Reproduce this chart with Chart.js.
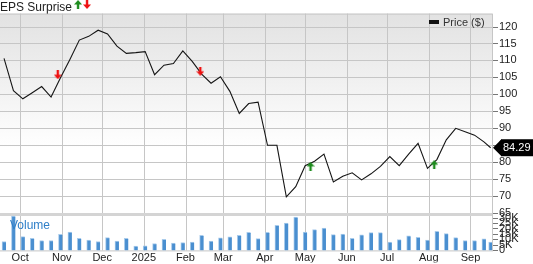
<!DOCTYPE html>
<html>
<head>
<meta charset="utf-8">
<script src="https://cdn.jsdelivr.net/npm/chart.js@4.4.1/dist/chart.umd.min.js"></script>
<style>
  html, body { margin: 0; padding: 0; background: #fff; }
</style>
</head>
<body>
<canvas id="chart" width="533" height="264"></canvas>
<script>
// weekly closes
const weeks = [
  '2024-09-19', '2024-09-26', '2024-10-03', '2024-10-10', '2024-10-17', '2024-10-24',
  '2024-10-31', '2024-11-07', '2024-11-14', '2024-11-21', '2024-11-28', '2024-12-05',
  '2024-12-12', '2024-12-19', '2024-12-26', '2025-01-02', '2025-01-09', '2025-01-16',
  '2025-01-23', '2025-01-30', '2025-02-06', '2025-02-13', '2025-02-20', '2025-02-27',
  '2025-03-06', '2025-03-13', '2025-03-20', '2025-03-27', '2025-04-03', '2025-04-10',
  '2025-04-17', '2025-04-24', '2025-05-01', '2025-05-08', '2025-05-15', '2025-05-22',
  '2025-05-29', '2025-06-05', '2025-06-12', '2025-06-19', '2025-06-26', '2025-07-03',
  '2025-07-10', '2025-07-17', '2025-07-24', '2025-07-31', '2025-08-07', '2025-08-14',
  '2025-08-21', '2025-08-28', '2025-09-04', '2025-09-11', '2025-09-16'
];
const prices = [
  110.6, 101.1, 98.7, 100.5, 102.3, 99.2, 104.9, 110.3, 116.0, 117.1, 118.9, 117.8,
  114.2, 112.1, 112.3, 112.6, 105.8, 108.6, 109.1, 112.8, 109.7, 106.0, 103.3, 105.2,
  100.9, 94.4, 97.3, 97.7, 85.0, 85.0, 69.8, 72.8, 79.0, 80.3, 82.4, 74.2,
  75.9, 76.9, 74.8, 76.6, 78.8, 81.7, 79.0, 82.4, 85.6, 78.2, 80.8, 86.6,
  90.0, 89.0, 88.0, 86.0, 84.29
];
// volume in thousands
const volumes = [
  8.1, 31.2, 12.6, 11.1, 9.0, 9.0, 14.7, 16.8, 11.1, 9.3, 8.1, 11.7,
  8.4, 11.1, 3.9, 4.1, 6.3, 10.2, 6.6, 7.2, 7.5, 13.8, 8.6, 11.4,
  12.3, 13.8, 16.5, 10.8, 16.5, 22.8, 24.9, 30.3, 16.8, 18.9, 20.4, 14.4,
  15.0, 11.1, 14.1, 16.2, 16.2, 7.7, 9.9, 13.2, 12.0, 9.5, 17.4, 15.3,
  11.7, 9.0, 9.0, 10.5, 7.5
];

const epsDates = ['2024-10-29', '2025-02-12', '2025-05-05', '2025-08-05'];
const epsLevels = [105.8, 106.8, 78.8, 79.3];
const epsBeat = [false, false, true, true];

const monthTicks = ['2024-10-01', '2024-11-01', '2024-12-01', '2025-01-01', '2025-02-01', '2025-03-01',
  '2025-04-01', '2025-05-01', '2025-06-01', '2025-07-01', '2025-08-01', '2025-09-01'];
const monthLabels = ['Oct', 'Nov', 'Dec', '2025', 'Feb', 'Mar', 'Apr', 'May', 'Jun', 'Jul', 'Aug', 'Sep'];
const priceTicks = [65, 70, 75, 80, 85, 90, 95, 100, 105, 110, 115, 120];
const volumeTicks = [0, 5, 10, 15, 20, 25, 30];
const xRange = ['2024-09-16', '2025-09-17'];

const FONT = "'Liberation Sans', Arial, sans-serif";
const GRID = '#c6c6c6';
const day = (s) => Date.parse(s + 'T00:00:00Z') / 86400000;

function makeArrow(color, up) {
  const c = document.createElement('canvas');
  c.width = 8;
  c.height = 9;
  const g = c.getContext('2d');
  g.fillStyle = color;
  g.beginPath();
  if (up) {
    g.moveTo(4, 0); g.lineTo(8, 4.5); g.lineTo(5.2, 4.5); g.lineTo(5.2, 9);
    g.lineTo(2.8, 9); g.lineTo(2.8, 4.5); g.lineTo(0, 4.5);
  } else {
    g.moveTo(4, 9); g.lineTo(8, 4.5); g.lineTo(5.2, 4.5); g.lineTo(5.2, 0);
    g.lineTo(2.8, 0); g.lineTo(2.8, 4.5); g.lineTo(0, 4.5);
  }
  g.closePath();
  g.fill();
  return c;
}
const upArrow = makeArrow('#1e8c1e', true);
const downArrow = makeArrow('#ee1111', false);

// background, grid and borders, placed from the chart's own scales
const decor = {
  id: 'decor',
  beforeDraw(chart) {
    const { ctx, chartArea } = chart;
    const y = chart.scales.y;
    ctx.save();
    ctx.fillStyle = '#fff';
    ctx.fillRect(0, 0, chart.width, chart.height);
    const grad = ctx.createLinearGradient(0, chartArea.top, 0, chartArea.top + 135);
    grad.addColorStop(0, '#e2e2e2');
    grad.addColorStop(1, '#ffffff');
    ctx.fillStyle = grad;
    ctx.fillRect(chartArea.left, chartArea.top, chartArea.right - chartArea.left, y.bottom - chartArea.top);
    ctx.restore();
  },
  beforeDatasetsDraw(chart) {
    const { ctx, chartArea } = chart;
    const { x, y, yv } = chart.scales;
    const w = chartArea.right - chartArea.left;
    const h = chartArea.bottom - chartArea.top;
    ctx.save();
    ctx.fillStyle = GRID;
    x.ticks.forEach((t) => {
      const px = Math.round(x.getPixelForValue(t.value));
      ctx.fillRect(px, chartArea.top, 1, h);
    });
    y.ticks.forEach((t) => {
      const py = Math.round(y.getPixelForValue(t.value));
      ctx.fillRect(chartArea.left, py, w, 1);
    });
    ctx.fillRect(chartArea.right, chartArea.top, 1, h + 1);
    ctx.fillRect(chartArea.left, chartArea.top, w, 1);
    ctx.fillRect(chartArea.left, chartArea.bottom, w, 1);
    ctx.fillStyle = '#d4d4d4';
    ctx.fillRect(chartArea.left, Math.round(y.bottom) - 1, w, 3);
    ctx.fillStyle = '#777';
    [y, yv].forEach((s) => {
      s.ticks.forEach((t) => {
        const py = Math.round(s.getPixelForValue(t.value));
        ctx.fillRect(chartArea.right + 1, py, 5, 1);
      });
    });
    ctx.restore();
  },
  afterDraw(chart) {
    const { ctx, chartArea } = chart;
    const y = chart.scales.y;
    const yv = chart.scales.yv;
    ctx.save();
    // title arrows
    ctx.font = '12px ' + FONT;
    const tw = ctx.measureText('EPS Surprise').width;
    ctx.drawImage(upArrow, tw + 2, 0);
    ctx.drawImage(downArrow, tw + 11, 0);
    // legend
    ctx.fillStyle = '#111';
    ctx.fillRect(429, 20, 10, 4);
    ctx.font = '11px ' + FONT;
    ctx.fillStyle = '#333';
    ctx.textBaseline = 'middle';
    ctx.fillText('Price ($)', 443, 22.5);
    // volume label
    ctx.font = '12px ' + FONT;
    ctx.fillStyle = '#2f7fc8';
    ctx.fillText('Volume', chartArea.left + 10, yv.top + 12);
    // last price tag
    const last = prices[prices.length - 1];
    const py = y.getPixelForValue(last);
    const px = chartArea.right + 1;
    ctx.fillStyle = '#000';
    ctx.fillRect(px + 8, py - 8.5, chart.width - px - 8, 17);
    ctx.beginPath();
    ctx.moveTo(px, py);
    ctx.lineTo(px + 8.5, py - 8.5);
    ctx.lineTo(px + 8.5, py + 8.5);
    ctx.closePath();
    ctx.fill();
    ctx.fillStyle = '#fff';
    ctx.font = '11px ' + FONT;
    ctx.fillText(last.toFixed(2), px + 10, py + 0.5);
    ctx.restore();
  }
};

const noGrid = { display: false, drawTicks: false, tickLength: 0 };

new Chart(document.getElementById('chart'), {
  type: 'line',
  data: {
    datasets: [
      {
        type: 'scatter',
        data: epsDates.map((d, i) => ({ x: day(d), y: epsLevels[i] })),
        pointStyle: epsBeat.map((b) => (b ? upArrow : downArrow)),
        yAxisID: 'y',
        order: 0,
      },
      {
        label: 'Price ($)',
        data: weeks.map((d, i) => ({ x: day(d), y: prices[i] })),
        borderColor: '#151515',
        borderWidth: 1.1,
        pointRadius: 0,
        tension: 0,
        yAxisID: 'y',
        order: 1,
      },
      {
        type: 'bar',
        label: 'Volume',
        data: weeks.map((d, i) => ({ x: day(d), y: volumes[i] })),
        backgroundColor: '#4a8fd0',
        borderColor: '#a8cbeb',
        borderWidth: { left: 1, top: 1 },
        borderSkipped: 'bottom',
        barThickness: 4,
        yAxisID: 'yv',
        order: 2,
      },
    ],
  },
  options: {
    responsive: false,
    animation: false,
    layout: { padding: 0, autoPadding: false },
    plugins: {
      legend: { display: false },
      tooltip: { enabled: false },
      title: {
        display: true,
        text: 'EPS Surprise',
        align: 'start',
        color: '#222',
        font: { family: FONT, size: 12, weight: 'normal', lineHeight: 1 },
        padding: 0,
      },
    },
    scales: {
      x: {
        type: 'linear',
        min: day(xRange[0]),
        max: day(xRange[1]),
        offset: false,
        grid: { ...noGrid, offset: false },
        border: { display: false },
        afterBuildTicks: (s) => { s.ticks = monthTicks.map((d) => ({ value: day(d) })); },
        afterFit: (s) => { s.height = 12; s.paddingLeft = 0; s.paddingRight = 0; },
        ticks: {
          autoSkip: false,
          maxRotation: 0,
          padding: 1,
          color: '#222',
          font: { family: FONT, size: 11 },
          callback: (v, i) => monthLabels[i],
        },
      },
      y: {
        position: 'right',
        stack: 'panels',
        stackWeight: 203,
        min: 64.8,
        max: 123.8,
        grid: noGrid,
        border: { display: false },
        afterBuildTicks: (s) => { s.ticks = priceTicks.map((v) => ({ value: v })); },
        afterFit: (s) => { s.width = 41; },
        ticks: {
          autoSkip: false,
          padding: 7,
          color: '#222',
          font: { family: FONT, size: 11 },
        },
      },
      yv: {
        position: 'right',
        stack: 'panels',
        stackWeight: 37,
        min: 0,
        max: 33.3,
        grid: noGrid,
        border: { display: false },
        afterBuildTicks: (s) => { s.ticks = volumeTicks.map((v) => ({ value: v })); },
        afterFit: (s) => { s.width = 41; },
        ticks: {
          autoSkip: false,
          padding: 7,
          color: '#222',
          font: { family: FONT, size: 11 },
          callback: (v) => (v === 0 ? '0' : v + 'K'),
        },
      },
    },
  },
  plugins: [decor],
});
</script>
</body>
</html>
